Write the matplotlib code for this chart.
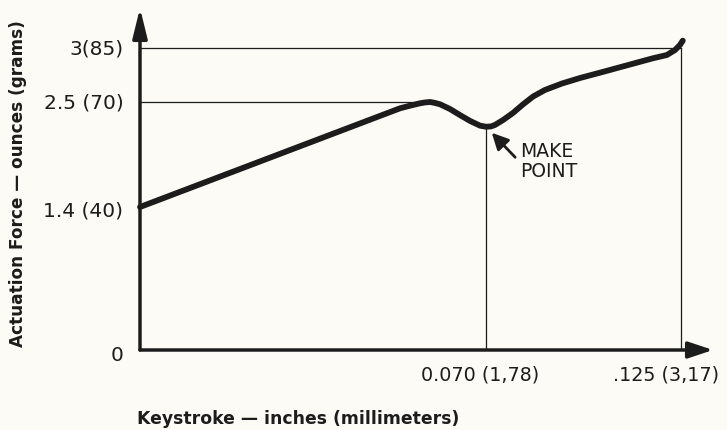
import numpy as np
import matplotlib
matplotlib.use("Agg")
import matplotlib.pyplot as plt

# ---- data (keystroke in inches, force in ounces) ----
keystroke = [0.0, 0.0526, 0.0546, 0.0566, 0.0576, 0.0587, 0.0597, 0.0607,
             0.0627, 0.0647, 0.0668, 0.0688, 0.0700, 0.0714, 0.0725, 0.0748,
             0.0776, 0.0804, 0.0833, 0.0866, 0.0914, 0.0965, 0.1022, 0.1078,
             0.1171, 0.1210, 0.1233, 0.1247, 0.1255]
force = [1.40, 2.434, 2.461, 2.486, 2.495, 2.50, 2.490, 2.476,
         2.427, 2.364, 2.301, 2.252, 2.241, 2.244, 2.259, 2.311,
         2.385, 2.474, 2.551, 2.611, 2.671, 2.722, 2.772, 2.822,
         2.905, 2.935, 2.981, 3.028, 3.068]

y_ticks = [0, 1.4, 2.5, 3.0]
y_tick_labels = ["0", "1.4 (40)", "2.5 (70)", "3(85)"]
x_ticks = [0.070, 0.125]
x_tick_labels = ["0.070 (1,78)", ".125 (3,17)"]
make_point_x = 0.070
make_point_y = 2.241
peak_x = 0.0587
peak_y = 2.5
end_y = 3.0

ink = "#1c1c1c"
bg = "#fcfbf5"

# the original diagram is not drawn to scale: piecewise-linear axes
XB = [0.0, 0.070, 0.125]
XP = [0.0, 346.0, 541.0]
YB = [0.0, 1.4, 2.5, 3.0]
YP = [0.0, 143.0, 248.0, 302.0]


def make_pw(bv, bp):
    bv = np.asarray(bv, float)
    bp = np.asarray(bp, float)

    def f(x):
        x = np.asarray(x, float)
        out = np.interp(x, bv, bp)
        lo = bp[0] + (x - bv[0]) * (bp[1] - bp[0]) / (bv[1] - bv[0])
        hi = bp[-1] + (x - bv[-1]) * (bp[-1] - bp[-2]) / (bv[-1] - bv[-2])
        return np.where(x < bv[0], lo, np.where(x > bv[-1], hi, out))

    def g(u):
        u = np.asarray(u, float)
        out = np.interp(u, bp, bv)
        lo = bv[0] + (u - bp[0]) * (bv[1] - bv[0]) / (bp[1] - bp[0])
        hi = bv[-1] + (u - bp[-1]) * (bv[-1] - bv[-2]) / (bp[-1] - bp[-2])
        return np.where(u < bp[0], lo, np.where(u > bp[-1], hi, out))

    return f, g


fx, gx = make_pw(XB, XP)
fy, gy = make_pw(YB, YP)

W, H = 727, 430
fig = plt.figure(figsize=(W / 100, H / 100), dpi=100, facecolor=bg)
ax = fig.add_axes([140 / W, (H - 350) / H, (720 - 140) / W, (350 - 5) / H])
ax.set_facecolor(bg)
ax.set_xscale("function", functions=(fx, gx))
ax.set_yscale("function", functions=(fy, gy))
ax.set_xlim(0, float(gx(580)))
ax.set_ylim(0, float(gy(345)))
for s in ax.spines.values():
    s.set_visible(False)
ax.set_xticks([])
ax.set_yticks([])
ax.minorticks_off()

# axes with arrows
x_end = float(gx(573))
y_end = float(gy(342))
ax.annotate("", xy=(0, y_end), xytext=(0, 0),
            arrowprops=dict(arrowstyle="-|>,head_length=0.9,head_width=0.22",
                            lw=2.5, color=ink, shrinkA=0, shrinkB=0,
                            mutation_scale=20),
            annotation_clip=False)
ax.annotate("", xy=(x_end, 0), xytext=(0, 0),
            arrowprops=dict(arrowstyle="-|>,head_length=0.75,head_width=0.25",
                            lw=2.5, color=ink, shrinkA=0, shrinkB=0,
                            mutation_scale=20),
            annotation_clip=False)

# reference lines
ax.plot([0, x_ticks[1]], [end_y, end_y], color=ink, lw=0.9)
ax.plot([0, peak_x], [peak_y, peak_y], color=ink, lw=0.9)
ax.plot([make_point_x, make_point_x], [0, make_point_y], color=ink, lw=0.9)
ax.plot([x_ticks[1], x_ticks[1]], [0, end_y], color=ink, lw=0.9)

# force curve
ax.plot(keystroke, force, color=ink, lw=4.2, solid_capstyle="round",
        solid_joinstyle="round", clip_on=False)

# tick labels
for v, lab in zip(y_ticks, y_tick_labels):
    dy = {0: -4, 1.4: -3, 2.5: -1, 3.0: -1}[v]
    ax.annotate(lab, xy=(0, v), xytext=(-12, dy), textcoords="offset points",
                ha="right", va="center", fontsize=14.5, color=ink,
                annotation_clip=False)
for v, lab, dx in zip(x_ticks, x_tick_labels, [-4.3, -11]):
    ax.annotate(lab, xy=(v, 0), xytext=(dx, -18), textcoords="offset points",
                ha="center", va="center", fontsize=13.8, color=ink,
                annotation_clip=False)

# make point annotation
ax.annotate("", xy=(make_point_x, make_point_y), xytext=(21, -22),
            textcoords="offset points",
            arrowprops=dict(arrowstyle="-|>,head_length=0.5,head_width=0.25",
                            lw=2.0, color=ink, shrinkA=0, shrinkB=6,
                            mutation_scale=20))
ax.annotate("MAKE\nPOINT", xy=(make_point_x, make_point_y), xytext=(24.5, -25),
            textcoords="offset points", ha="left", va="center",
            fontsize=13.5, color=ink, linespacing=1.1)

# axis titles
fig.text(137 / W, 1 - 419 / H, "Keystroke \u2014 inches (millimeters)",
         ha="left", va="center", fontsize=12.4, fontweight="bold", color=ink)
fig.text(18 / W, 1 - 184 / H, "Actuation Force \u2014 ounces (grams)",
         ha="center", va="center", rotation=90, fontsize=12.2,
         fontweight="bold", color=ink)

fig.savefig("out.png", dpi=100, facecolor=bg)
